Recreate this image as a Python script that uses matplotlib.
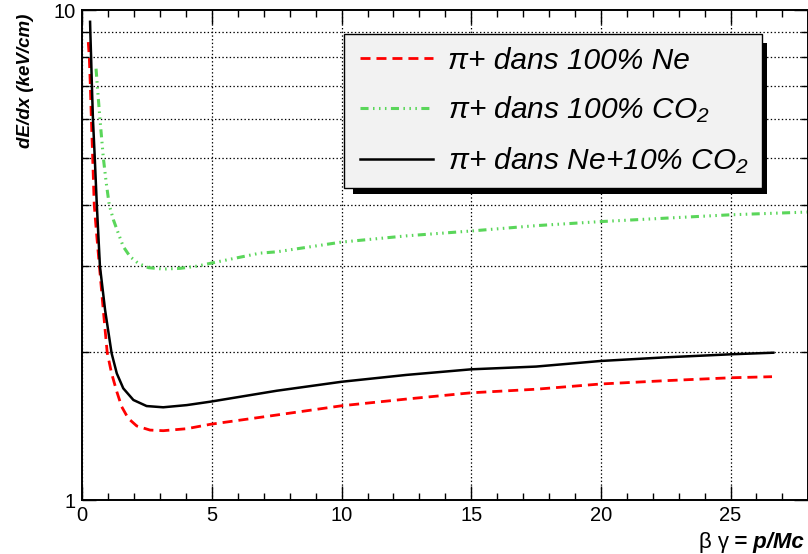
import matplotlib
matplotlib.use('Agg')
import matplotlib.pyplot as plt
from matplotlib.patches import Rectangle
from matplotlib.ticker import FixedLocator, NullFormatter, FixedFormatter

# dE/dx dla pionow w roznych gazach
ne_x = [0.23, 0.27, 0.31, 0.35, 0.40, 0.46, 0.56, 0.66, 0.81, 0.96, 1.13, 1.33, 1.52, 1.77,
        2.10, 2.61, 3.12, 4.03, 4.93, 7.5, 10.0, 12.5, 15.0, 17.5, 20.0, 22.5, 25.0, 26.6]
ne_y = [8.60, 8.0, 7.0, 6.0, 5.0, 4.0, 3.45, 3.0, 2.44, 2.0, 1.813, 1.664, 1.550, 1.468,
        1.416, 1.389, 1.385, 1.398, 1.427, 1.491, 1.557, 1.607, 1.655, 1.683, 1.725, 1.752,
        1.776, 1.785]

co2_x = [0.53, 0.58, 0.68, 0.81, 0.92, 1.04, 1.20, 1.39, 1.58, 1.84, 2.16, 2.55, 3.12,
         3.77, 4.41, 5.18, 6.85, 7.5, 10.0, 12.5, 15.0, 17.5, 20.0, 22.5, 25.0, 28.0]
co2_y = [7.59, 7.0, 6.0, 5.0, 4.45, 4.0, 3.73, 3.50, 3.29, 3.14, 3.04, 2.98, 2.96,
         2.97, 3.0, 3.06, 3.19, 3.21, 3.36, 3.46, 3.54, 3.63, 3.70, 3.76, 3.82, 3.87]

mix_x = [0.30, 0.31, 0.34, 0.37, 0.41, 0.48, 0.56, 0.68, 0.88, 1.13, 1.33, 1.58, 1.97,
         2.48, 3.12, 4.03, 4.93, 7.5, 10.0, 12.5, 15.0, 17.5, 20.0, 22.5, 25.0, 26.65]
mix_y = [9.46, 9.0, 8.0, 7.0, 6.0, 5.0, 4.0, 3.0, 2.44, 1.993, 1.813, 1.690, 1.600,
         1.555, 1.546, 1.562, 1.587, 1.671, 1.743, 1.80, 1.848, 1.872, 1.922, 1.955,
         1.983, 1.998]

labels = [r'π+ dans 100% Ne', r'π+ dans 100% CO$_2$', r'π+ dans Ne+10% CO$_2$']

plt.rcParams['font.family'] = ['Liberation Sans', 'DejaVu Sans']
plt.rcParams['mathtext.fontset'] = 'custom'
plt.rcParams['mathtext.it'] = 'Liberation Sans:italic'
plt.rcParams['mathtext.rm'] = 'Liberation Sans:italic'
plt.rcParams['mathtext.default'] = 'it'
plt.rcParams['lines.scale_dashes'] = False

W, H = 808, 554
fig = plt.figure(figsize=(W / 100, H / 100), dpi=100)
ax = fig.add_axes([82.3 / W, 54 / H, 726 / W, 490 / H])

ax.plot(ne_x, ne_y, color='#ff0000', lw=2.0, linestyle=(0, (7.2, 4.3)), label=labels[0])
ax.plot(co2_x, co2_y, color='#5ad65a', lw=2.2,
        linestyle=(0, (5.8, 3.2, 1.1, 3.2, 1.1, 3.2, 1.1, 3.2)), label=labels[1])
ax.plot(mix_x, mix_y, color='black', lw=1.8, label=labels[2])

ax.set_yscale('log')
ax.set_xlim(0, 28)
ax.set_ylim(1, 10)

# osie w stylu ROOT
ax.yaxis.set_major_locator(FixedLocator([1, 10]))
ax.yaxis.set_major_formatter(FixedFormatter(['1', '10']))
ax.yaxis.set_minor_locator(FixedLocator([2, 3, 4, 5, 6, 7, 8, 9]))
ax.yaxis.set_minor_formatter(NullFormatter())
ax.xaxis.set_major_locator(FixedLocator([0, 5, 10, 15, 20, 25]))
ax.xaxis.set_minor_locator(FixedLocator([i for i in range(1, 28) if i % 5 != 0]))

ax.tick_params(which='both', direction='in', top=True, right=True, width=1.0, labelsize=14.5)
ax.tick_params(which='major', length=10, pad=4.5)
ax.tick_params(axis='y', which='major', pad=5)
ax.tick_params(which='minor', length=5)
for s in ax.spines.values():
    s.set_linewidth(1.4)

ax.grid(True, which='major', axis='x', color='black', linestyle=':', lw=0.9)
ax.grid(True, which='minor', axis='y', color='black', linestyle=':', lw=0.9)

# ramka legendy + czarny cien (rysowane recznie)
bx0, bx1, by0, by1 = 344, 762, 34, 188
shadow = Rectangle(((bx0 + 9) / W, 1 - (by1 + 5.5) / H), (bx1 - bx0 - 4) / W, (by1 - by0 - 3.5) / H,
                   transform=fig.transFigure, facecolor='black', edgecolor='none', zorder=5)
box = Rectangle((bx0 / W, 1 - by1 / H), (bx1 - bx0) / W, (by1 - by0) / H,
                transform=fig.transFigure, facecolor='#f2f2f2', edgecolor='black', lw=1.0, zorder=5.5)
ax.add_artist(shadow)
ax.add_artist(box)

leg = ax.legend(loc='upper left', bbox_to_anchor=((bx0 + 3.4) / W, 1 - by0 / H),
                bbox_transform=fig.transFigure, frameon=False,
                prop={'style': 'italic', 'size': 21.5}, handlelength=2.42,
                handletextpad=0.52, labelspacing=0.66, borderpad=0.43, borderaxespad=0)
leg.set_zorder(6)

# opisy osi
fig.text(25 / W, 1 - 14 / H, 'dE/dx (keV/cm)', rotation=90, ha='center', va='top',
         fontsize=13.5, fontweight='bold', fontstyle='italic')
t = fig.text(804 / W, 1 - 548 / H, '= p/Mc', ha='right', va='baseline',
             fontsize=16, fontweight='bold', fontstyle='italic')
fig.canvas.draw()
bb = t.get_window_extent()
fig.text((bb.x0 - 5) / W, 1 - 548 / H, 'β γ', ha='right', va='baseline', fontsize=16)

fig.savefig('out.png', dpi=100)
